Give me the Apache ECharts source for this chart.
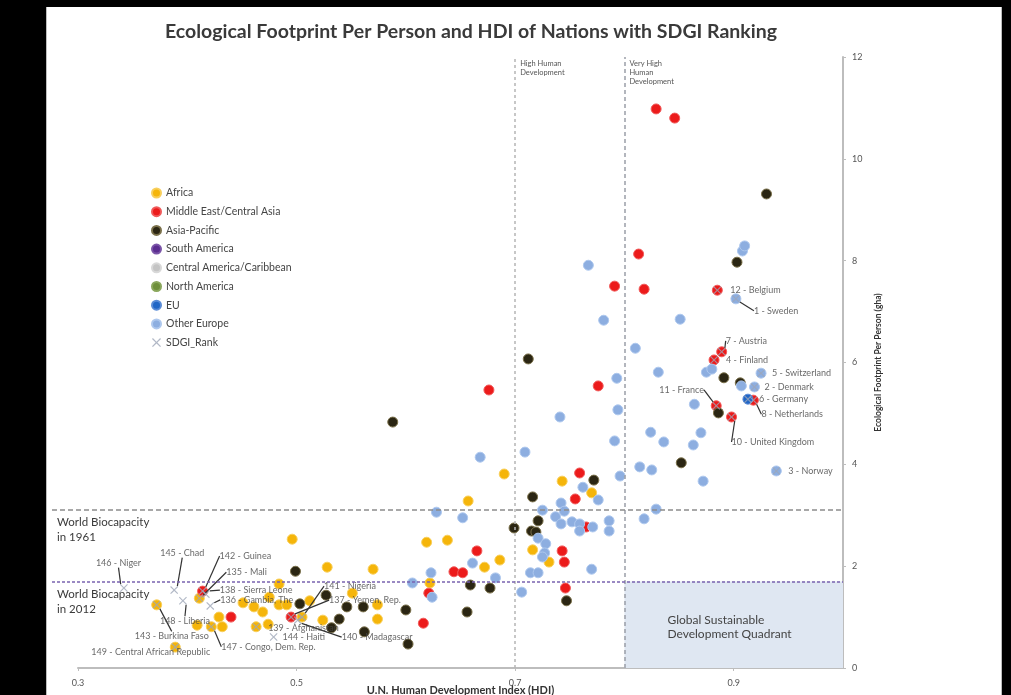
<!DOCTYPE html>
<html>
<head>
<meta charset="utf-8">
<script src="https://cdn.jsdelivr.net/npm/echarts@6/dist/echarts.min.js"></script>
<style>
html, body { margin: 0; padding: 0; background: #000; }
#panel { position: absolute; left: 46px; top: 7px; width: 954px; height: 688px; background: #fff; border-left: 1px solid #bdbdbd; border-right: 1px solid #bdbdbd; }
#chart { position: absolute; left: 0; top: 0; width: 1011px; height: 695px; }
</style>
</head>
<body>
<div id="panel"></div>
<div id="chart"></div>
<script>
// HDI (x) and ecological footprint in gha (y)
var africa = [[0.690,3.81],[0.743,3.67],[0.770,3.44],[0.657,3.28],[0.619,2.47],[0.638,2.51],[0.716,2.32],[0.731,2.08],[0.686,2.12],[0.672,1.98],[0.622,1.67],[0.496,2.53],[0.528,1.98],[0.570,1.94],[0.484,1.65],[0.411,1.37],[0.475,1.39],[0.484,1.24],[0.461,1.20],[0.451,1.28],[0.469,1.10],[0.512,1.32],[0.551,1.47],[0.574,1.24],[0.372,1.24],[0.429,1.00],[0.409,0.84],[0.422,0.81],[0.432,0.81],[0.474,0.86],[0.505,1.00],[0.524,0.94],[0.574,0.96],[0.389,0.41],[0.491,1.24],[0.463,0.81]];
var middleEast = [[0.829,10.98],[0.846,10.80],[0.813,8.13],[0.791,7.50],[0.818,7.44],[0.885,7.42],[0.889,6.21],[0.882,6.05],[0.918,5.26],[0.884,5.15],[0.898,4.93],[0.676,5.46],[0.776,5.54],[0.759,3.83],[0.755,3.32],[0.765,2.77],[0.665,2.30],[0.743,2.30],[0.745,2.08],[0.644,1.89],[0.652,1.87],[0.621,1.47],[0.746,1.57],[0.616,0.88],[0.414,1.51],[0.440,1.00],[0.495,1.00]];
var asiaPacific = [[0.930,9.31],[0.903,7.97],[0.712,6.07],[0.588,4.83],[0.891,5.70],[0.906,5.60],[0.886,5.01],[0.852,4.03],[0.772,3.69],[0.716,3.36],[0.721,2.89],[0.699,2.75],[0.715,2.69],[0.719,2.67],[0.659,1.63],[0.677,1.57],[0.747,1.32],[0.656,1.10],[0.600,1.14],[0.561,1.20],[0.546,1.20],[0.527,1.43],[0.503,1.26],[0.499,1.90],[0.539,0.96],[0.532,0.79],[0.562,0.71],[0.602,0.47]];
var southAmerica = [];
var centralAmerica = [];
var northAmerica = [];
var eu = [[0.913,5.28]];
var otherEurope = [[0.908,8.19],[0.910,8.29],[0.902,7.25],[0.767,7.91],[0.781,6.83],[0.851,6.85],[0.810,6.28],[0.831,5.81],[0.793,5.69],[0.875,5.81],[0.880,5.87],[0.925,5.79],[0.907,5.54],[0.919,5.52],[0.864,5.18],[0.794,5.07],[0.741,4.93],[0.870,4.62],[0.863,4.38],[0.791,4.46],[0.709,4.24],[0.668,4.14],[0.939,3.87],[0.872,3.67],[0.824,4.63],[0.836,4.44],[0.814,3.95],[0.825,3.89],[0.796,3.77],[0.762,3.55],[0.776,3.30],[0.742,3.24],[0.745,3.08],[0.725,3.10],[0.628,3.06],[0.652,2.95],[0.737,2.97],[0.742,2.83],[0.752,2.87],[0.759,2.83],[0.771,2.77],[0.786,2.89],[0.786,2.69],[0.759,2.69],[0.721,2.55],[0.728,2.44],[0.727,2.26],[0.725,2.18],[0.661,2.06],[0.623,1.87],[0.714,1.87],[0.721,1.87],[0.770,1.94],[0.682,1.77],[0.606,1.67],[0.706,1.49],[0.624,1.39],[0.829,3.12],[0.818,2.93]];

var sdgiNames = ['12 - Belgium','1 - Sweden','7 - Austria','4 - Finland','5 - Switzerland','2 - Denmark','6 - Germany','8 - Netherlands','11 - France','10 - United Kingdom','3 - Norway','146 - Niger','145 - Chad','142 - Guinea','135 - Mali','138 - Sierra Leone','136 - Gambia, The','148 - Liberia','143 - Burkina Faso','149 - Central African Republic','147 - Congo, Dem. Rep.','144 - Haiti','139 - Afghanistan','140 - Madagascar','141 - Nigeria','137 - Yemen, Rep.'];
var sdgiPoints = [[0.885,7.42],[0.902,7.25],[0.889,6.21],[0.882,6.05],[0.925,5.79],[0.919,5.52],[0.913,5.28],[0.918,5.26],[0.884,5.15],[0.898,4.93],[0.939,3.87],[0.342,1.57],[0.388,1.53],[0.414,1.51],[0.411,1.37],[0.417,1.45],[0.421,1.22],[0.396,1.32],[0.372,1.24],[0.389,0.41],[0.422,0.81],[0.479,0.61],[0.463,0.81],[0.501,0.94],[0.505,1.00],[0.495,1.00]];

var hdiBands = [0.7, 0.8];
var biocapacity1961 = 3.1;
var biocapacity2012 = 1.7;

// where each rank label sits relative to its point, and whether it gets a leader line
var labelShift = [[6,0],[11,12],[-3,-11],[5,0],[4,0],[3,0],[4,0],[1,14],[-64,-16],[-7,25],[5,0],[-35,-25],[-21,-37],[10,-35],[20,-26],[7,-4],[3,-6],[-30,20],[-29,31],[-91,5],[3,20],[2,0],[5,1],[37,17],[15,-31],[31,-17]];
var leader = [false,true,true,false,false,false,false,true,true,true,false,true,true,true,true,true,true,true,true,false,true,false,false,true,true,true];

var FONT = 'Lato';
var crossPath = 'path://M0,1 L1,0 L5,4 L9,0 L10,1 L6,5 L10,9 L9,10 L5,6 L1,10 L0,9 L4,5 Z';

function dots(name, data, color, border) {
  return {
    name: name,
    type: 'scatter',
    data: data,
    symbol: 'circle',
    symbolSize: 10,
    z: 3,
    itemStyle: { color: color, borderColor: border, borderWidth: 1, opacity: 1 }
  };
}

var sdgiData = [];
for (var i = 0; i < sdgiPoints.length; i++) {
  sdgiData.push({
    name: sdgiNames[i],
    value: sdgiPoints[i],
    labelLine: { show: leader[i] }
  });
}

var chart = echarts.init(document.getElementById('chart'));
chart.setOption({
  animation: false,
  textStyle: { fontFamily: FONT },
  title: {
    text: 'Ecological Footprint Per Person and HDI of Nations with SDGI Ranking',
    left: 466,
    top: 17,
    textAlign: 'center',
    textStyle: { fontFamily: FONT, fontSize: 19.5, fontWeight: 'bold', color: '#3a3a3a' }
  },
  legend: {
    orient: 'vertical',
    left: 146,
    top: 182,
    itemWidth: 9,
    itemHeight: 9,
    itemGap: 6.7,
    textStyle: { fontFamily: FONT, fontSize: 10.5, lineHeight: 12, color: '#444' },
    data: ['Africa','Middle East/Central Asia','Asia-Pacific','South America','Central America/Caribbean','North America','EU','Other Europe','SDGI_Rank']
  },
  grid: [
    { left: 78, right: 168, top: 57, bottom: 27, outerBoundsMode: 'none' },
    { left: 52, right: 168, top: 57, bottom: 27, outerBoundsMode: 'none' }
  ],
  xAxis: [{
    type: 'value',
    gridIndex: 0,
    min: 0.3,
    max: 1.0,
    interval: 0.2,
    name: 'U.N. Human Development Index (HDI)',
    nameLocation: 'middle',
    nameGap: 17,
    nameMoveOverlap: false,
    nameTextStyle: { fontFamily: FONT, fontSize: 11, fontWeight: 'bold', color: '#333' },
    axisLine: { lineStyle: { color: '#bdbdbd', width: 2 } },
    axisTick: { show: true, length: 3, lineStyle: { color: '#bdbdbd' } },
    axisLabel: { margin: 11, fontSize: 9, color: '#555', showMaxLabel: false },
    splitLine: { show: false }
  }, {
    type: 'value', gridIndex: 1, min: 0, max: 1, show: false
  }],
  yAxis: [{
    type: 'value',
    gridIndex: 0,
    position: 'right',
    min: 0,
    max: 12,
    interval: 2,
    name: 'Ecological Footprint Per Person (gha)',
    nameLocation: 'middle',
    nameRotate: 90,
    nameGap: 30,
    nameTextStyle: { fontFamily: FONT, fontSize: 8.5, fontWeight: 'bold', color: '#333' },
    axisLine: { show: true, lineStyle: { color: '#bdbdbd', width: 2 } },
    axisTick: { show: true, length: 3, lineStyle: { color: '#bdbdbd' } },
    axisLabel: { margin: 9, fontSize: 9, color: '#555' },
    splitLine: { show: false }
  }, {
    type: 'value', gridIndex: 1, min: 0, max: 12, show: false
  }],
  series: [
    {
      name: 'guides',
      type: 'scatter',
      data: [],
      z: 1,
      silent: true,
      markArea: {
        silent: true,
        itemStyle: { color: '#dfe7f2' },
        label: {
          show: true,
          position: [43, 32],
          align: 'left',
          verticalAlign: 'top',
          fontSize: 12,
          lineHeight: 14,
          color: '#444',
          formatter: 'Global Sustainable\nDevelopment Quadrant'
        },
        data: [[{ coord: [hdiBands[1], 0] }, { coord: [1.0, biocapacity2012] }]]
      },
      markLine: {
        silent: true,
        symbol: 'none',
        label: { show: false },
        data: [
          { xAxis: hdiBands[0], lineStyle: { color: '#b5b5b5', type: [3, 3], width: 1.5 } },
          { xAxis: hdiBands[1], lineStyle: { color: '#9a9fa8', type: [4, 3], width: 1.5 } }
        ]
      },
      markPoint: {
        silent: true,
        symbol: 'circle',
        symbolSize: 0,
        label: {
          show: true,
          position: 'right',
          distance: 5,
          align: 'left',
          verticalAlign: 'top',
          offset: [0, 2],
          fontSize: 7.5,
          lineHeight: 9,
          color: '#555'
        },
        data: [
          { coord: [hdiBands[0], 12], label: { formatter: 'High Human\nDevelopment' } },
          { coord: [hdiBands[1], 12], label: { formatter: 'Very High\nHuman\nDevelopment' } }
        ]
      }
    },
    {
      name: 'biocapacity',
      type: 'line',
      xAxisIndex: 1,
      yAxisIndex: 1,
      data: [],
      z: 1,
      silent: true,
      markLine: {
        silent: true,
        symbol: 'none',
        label: {
          show: true,
          position: 'insideStartBottom',
          distance: 5,
          fontSize: 11.5,
          lineHeight: 15,
          color: '#3a3a3a'
        },
        data: [
          { yAxis: biocapacity1961, lineStyle: { color: '#8c8c8c', type: [5, 3], width: 1.5 }, label: { formatter: 'World Biocapacity\nin 1961' } },
          { yAxis: biocapacity2012, lineStyle: { color: '#7a63b0', type: [3, 2], width: 1.5 }, label: { formatter: 'World Biocapacity\nin 2012' } }
        ]
      }
    },
    dots('Africa', africa, '#f5b50a', '#f8cf5c'),
    dots('Middle East/Central Asia', middleEast, '#ec1b1b', '#f05a5a'),
    dots('Asia-Pacific', asiaPacific, '#2b2613', '#7a704a'),
    dots('South America', southAmerica, '#5b2d90', '#7b55a8'),
    dots('Central America/Caribbean', centralAmerica, '#c4c4c4', '#d8d8d8'),
    dots('North America', northAmerica, '#6e8f3a', '#8aa75c'),
    dots('EU', eu, '#2166c6', '#5a8bd6'),
    dots('Other Europe', otherEurope, '#8daee0', '#aec8ee'),
    {
      name: 'SDGI_Rank',
      type: 'scatter',
      data: sdgiData,
      symbol: crossPath,
      symbolSize: 8,
      z: 4,
      itemStyle: { color: '#9ea6b8' },
      label: {
        show: true,
        position: 'right',
        distance: 3,
        fontSize: 9,
        color: '#444',
        formatter: '{b}'
      },
      labelLine: { show: false, lineStyle: { color: '#333', width: 1.2 } },
      labelLayout: function (p) {
        var s = labelShift[p.dataIndex];
        return { dx: s[0], dy: s[1] };
      }
    }
  ]
});
</script>
</body>
</html>
